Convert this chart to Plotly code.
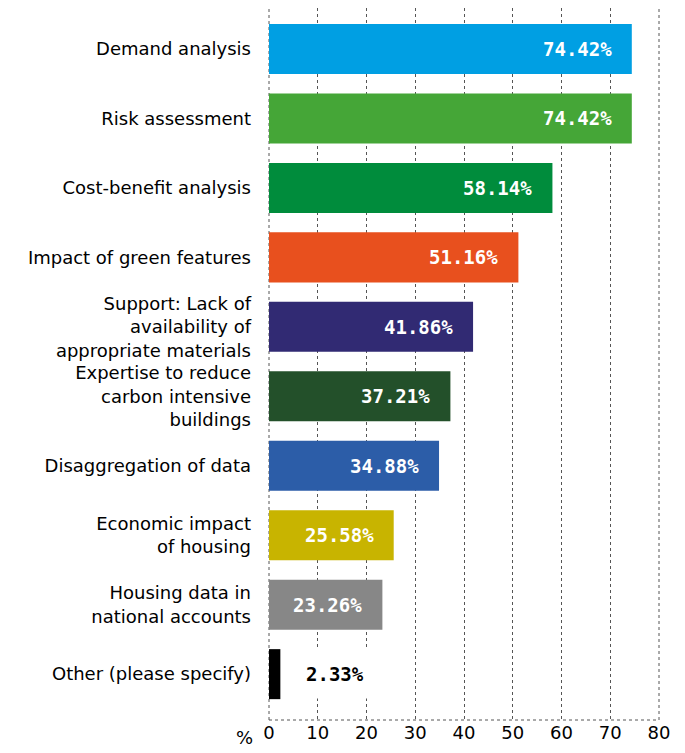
import plotly.graph_objects as go

categories = [
    "Demand analysis",
    "Risk assessment",
    "Cost-benefit analysis",
    "Impact of green features",
    "Support: Lack of<br>availability of<br>appropriate materials",
    "Expertise to reduce<br>carbon intensive<br>buildings",
    "Disaggregation of data",
    "Economic impact<br>of housing",
    "Housing data in<br>national accounts",
    "Other (please specify)",
]
values = [74.42, 74.42, 58.14, 51.16, 41.86, 37.21, 34.88, 25.58, 23.26, 2.33]
colors = ["#009FE3", "#45A637", "#008C3C", "#E8501E", "#312A73",
          "#23502A", "#2C5DA8", "#C8B400", "#878787", "#000000"]
x_ticks = [0, 10, 20, 30, 40, 50, 60, 70, 80]

pos = list(range(len(categories)))

fig = go.Figure()
fig.add_trace(go.Bar(
    x=values, y=pos, orientation="h",
    marker=dict(color=colors, line=dict(width=0)),
    width=0.72, hoverinfo="skip",
))

for i, v in enumerate(values):
    inside = v > 10
    if inside:
        fig.add_annotation(
            x=v, y=i, xref="x", yref="y",
            text=f"{v:.2f}%", showarrow=False,
            xanchor="right", xshift=-18,
            font=dict(family="DejaVu Sans Mono", size=19,
                      color="white", weight="bold"),
        )
    else:
        fig.add_annotation(
            x=v, y=i, xref="x", yref="y",
            text=f"{v:.2f}%", showarrow=False,
            xanchor="left", xshift=12,
            bgcolor="white", borderpad=13,
            font=dict(family="DejaVu Sans Mono", size=19,
                      color="black", weight="bold"),
        )

fig.add_annotation(
    x=0, y=0, xref="paper", yref="paper", text="%", showarrow=False,
    xanchor="right", yanchor="top", xshift=-14, yshift=-5,
    font=dict(family="DejaVu Sans", size=18, color="black"),
)

# dotted frame lines: bottom axis, left (0) and right (80) edges
dot = dict(color="#555555", width=1, dash="dot")
fig.add_shape(type="line", xref="paper", yref="paper",
              x0=0, x1=1, y0=0, y1=0, line=dot, layer="below")
fig.add_shape(type="line", xref="paper", yref="paper",
              x0=0, x1=0, y0=0, y1=1, line=dot, layer="below")
fig.add_shape(type="line", xref="paper", yref="paper",
              x0=1, x1=1, y0=0, y1=1, line=dot, layer="below")

fig.update_layout(
    width=685, height=753,
    margin=dict(l=269, r=26, t=8, b=33),
    plot_bgcolor="white", paper_bgcolor="white",
    showlegend=False,
    font=dict(family="DejaVu Sans", size=18, color="black"),
    xaxis=dict(
        range=[0, 80], tickvals=x_ticks, ticktext=[str(t) for t in x_ticks],
        showgrid=True, gridcolor="#555555", griddash="dot", gridwidth=1,
        showline=False, zeroline=False, ticks="", tickfont=dict(size=18),
    ),
    yaxis=dict(
        tickvals=pos, ticktext=categories,
        range=[9.66, -0.59],
        showgrid=False, zeroline=False, showline=False,
        ticks="", ticklabelstandoff=17,
    ),
)

fig.write_html("out.html")
